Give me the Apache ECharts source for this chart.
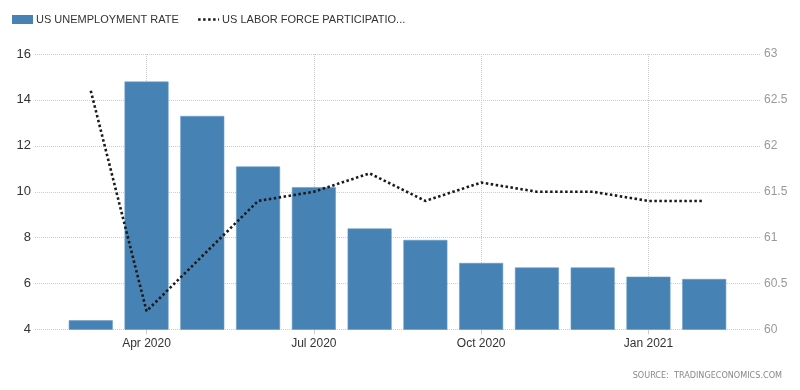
<!DOCTYPE html>
<html>
<head>
<meta charset="utf-8">
<script src="https://cdn.jsdelivr.net/npm/echarts@6/dist/echarts.min.js"></script>
<style>
  html, body { margin: 0; padding: 0; background: #fff; }
  #chart { width: 800px; height: 390px; }
</style>
</head>
<body>
<div id="chart"></div>
<script>
const months = ['Mar 2020','Apr 2020','May 2020','Jun 2020','Jul 2020','Aug 2020','Sep 2020','Oct 2020','Nov 2020','Dec 2020','Jan 2021','Feb 2021'];
const unemploymentRate = [4.4, 14.8, 13.3, 11.1, 10.2, 8.4, 7.9, 6.9, 6.7, 6.7, 6.3, 6.2];
const participationRate = [62.6, 60.2, 60.8, 61.4, 61.5, 61.7, 61.4, 61.6, 61.5, 61.5, 61.4, 61.4];
const labeledMonths = ['Apr 2020', 'Jul 2020', 'Oct 2020', 'Jan 2021'];
const leftTicks = { min: 4, max: 16, interval: 2 };
const rightTicks = { min: 60, max: 63, interval: 0.5 };
const seriesNames = ['US UNEMPLOYMENT RATE', 'US LABOR FORCE PARTICIPATIO...'];
const sourceText = 'SOURCE:  TRADINGECONOMICS.COM';

// axis categories padded by one empty slot at each end (half-month margins of the time axis)
const cats = [''].concat(months, ['']);
const pad = arr => [null].concat(arr, [null]);
const showIdx = (i, v) => labeledMonths.indexOf(cats[i]) >= 0;

const chart = echarts.init(document.getElementById('chart'), null, { renderer: 'canvas' });
chart.setOption({
  animation: false,
  textStyle: { fontFamily: 'Liberation Sans, Arial, sans-serif' },
  legend: {
    left: 7, top: 9,
    itemWidth: 21, itemHeight: 9, itemGap: 18,
    textStyle: { fontSize: 11, color: '#333', padding: [0, 0, 0, -2] },
    data: [
      { name: seriesNames[0], icon: 'rect', itemStyle: { borderWidth: 0, color: '#4682b4' } },
      { name: seriesNames[1], itemStyle: { opacity: 0 }, lineStyle: { color: '#1a1a1a', width: 2.6, type: [2.5, 2.5] } }
    ]
  },
  grid: { left: 35, right: 40, top: 54, bottom: 60.5 },
  xAxis: {
    type: 'category',
    data: cats,
    boundaryGap: false,
    axisLine: { show: false },
    axisTick: { show: true, interval: showIdx, length: 5, lineStyle: { color: '#ccc' } },
    axisLabel: { interval: showIdx, color: '#333', fontSize: 12, margin: 8 },
    splitLine: { show: true, interval: showIdx, lineStyle: { color: '#ccc', type: 'dotted', width: 1 } }
  },
  yAxis: [
    {
      type: 'value', min: leftTicks.min, max: leftTicks.max, interval: leftTicks.interval,
      axisLine: { show: false }, axisTick: { show: false },
      axisLabel: { color: '#333', fontSize: 13, margin: 4 },
      splitLine: { show: true, lineStyle: { color: '#ccc', type: 'dotted', width: 1 } }
    },
    {
      type: 'value', min: rightTicks.min, max: rightTicks.max, interval: rightTicks.interval,
      position: 'right',
      axisLine: { show: false }, axisTick: { show: false },
      axisLabel: { color: '#999', fontSize: 12, margin: 4 },
      splitLine: { show: false }
    }
  ],
  series: [
    {
      name: seriesNames[0],
      type: 'bar',
      yAxisIndex: 0,
      data: pad(unemploymentRate),
      barWidth: 44,
      itemStyle: { color: '#4682b4', borderColor: '#6a9ccb', borderWidth: 0.6 }
    },
    {
      name: seriesNames[1],
      type: 'line',
      yAxisIndex: 1,
      data: pad(participationRate),
      symbol: 'none',
      connectNulls: false,
      lineStyle: { color: '#1a1a1a', width: 2.6, type: [2.5, 2.5] },
      itemStyle: { color: '#1a1a1a' },
      z: 5
    }
  ],
  graphic: [
    {
      type: 'text', right: 18, top: 371,
      style: { text: sourceText, fill: '#888', font: '9px "DejaVu Sans Condensed", "Liberation Sans", sans-serif' }
    }
  ]
});
</script>
</body>
</html>
